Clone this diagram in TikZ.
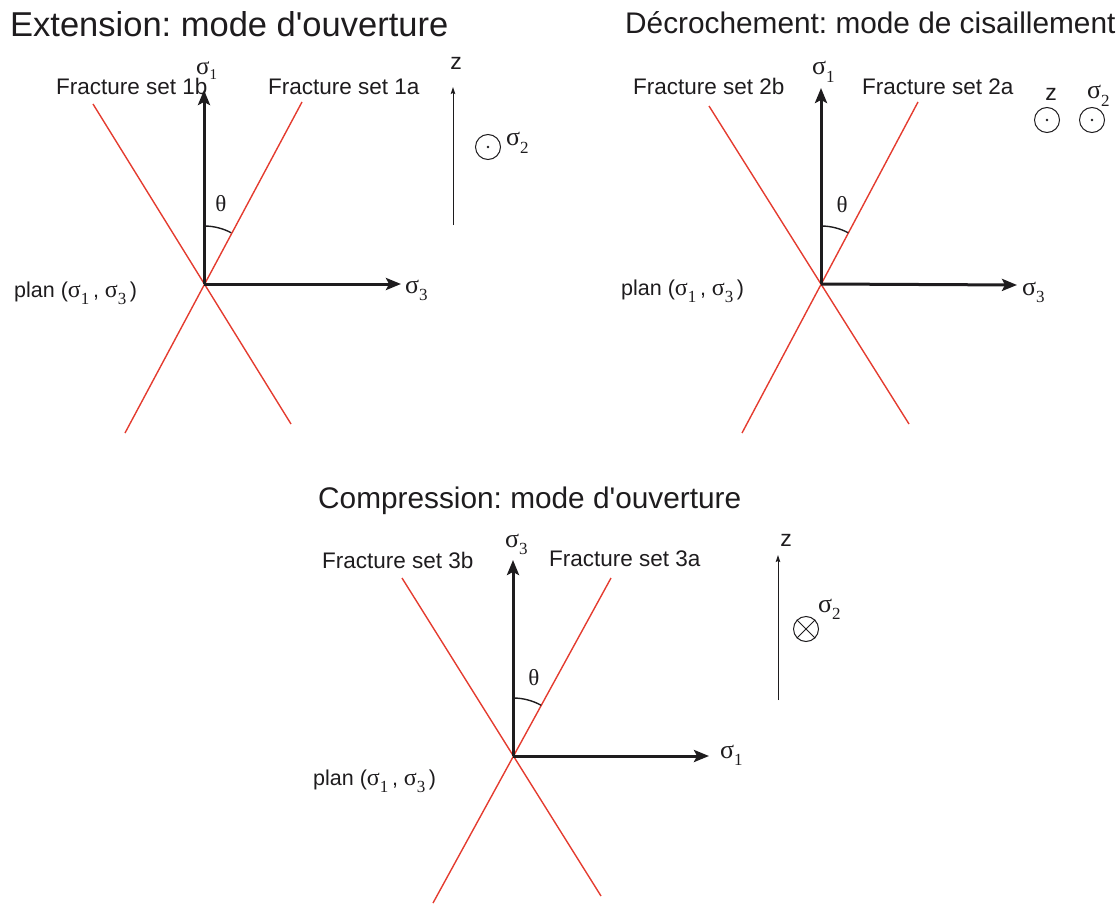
\documentclass[tikz,border=0pt]{standalone}
\usepackage{fontspec}
\setmainfont{Liberation Sans}[Ligatures=TeXOff]
\newfontfamily\grk{Liberation Serif}
\usetikzlibrary{arrows.meta}
\frenchspacing
\newcommand\fs[1]{\fontsize{#1}{#1}\selectfont}
\newcommand\sgm[3]{{\fs{#1}\grk σ\raisebox{-0.3em}{\fs{#2}#3}}}
\newcommand\sgmmid[3]{{\fs{#1}\grk σ\raisebox{-0.18em}{\fs{#2}#3}}}
\definecolor{fracred}{RGB}{228,60,48}
\definecolor{ink}{RGB}{30,28,30}
\begin{document}
\begin{tikzpicture}[x=1pt,y=-1pt,
  every node/.style={inner sep=0pt, text=ink},
  axis/.style={draw=ink, line width=3pt, -{Stealth[length=15pt,width=12pt,inset=3pt]}},
  frac/.style={draw=fracred, line width=1.4pt},
  zarrow/.style={draw=ink, line width=1pt, -{Stealth[length=7pt,width=4.5pt,inset=1pt]}},
  thetaarc/.style={draw=ink, line width=1.4pt},
  bigtitle/.style={anchor=base west, font=\fs{34.5}},
  title/.style={anchor=base west, font=\fs{29.8}},
  setlbl/.style={anchor=base west, font=\fs{22.5}},
  planlbl/.style={anchor=base west, font=\fs{21.5}},
  zlbl/.style={font=\fs{23}},
  thlbl/.style={font=\fs{23}\grk},
  dotc/.style={circle, draw=ink, line width=1pt, minimum size=25pt},
]
\useasboundingbox (0,0) rectangle (1118,904);

% ---------- Panel 1 : Extension ----------
\node[bigtitle] (t1) at (10,37) {Extension: mode d'ouverture};
\coordinate (o1) at (204,284);
\coordinate (s1top) at (204,90);
\coordinate (s1right) at (401,284);
\coordinate (f1bt) at (93,104);
\coordinate (f1bb) at (291,424);
\coordinate (f1at) at (302,102);
\coordinate (f1ab) at (125,433);
\draw[frac] (f1bt) -- (f1bb);
\draw[frac] (f1at) -- (f1ab);
\draw[axis] (o1) -- (s1top);
\draw[axis] (o1) -- (s1right);
\draw[thetaarc] ([yshift=58pt]o1) arc[start angle=-90, end angle=-62, radius=58];
\node[setlbl] (l1b) at (56,95) {Fracture set 1b};
\node[setlbl] (l1a) at (268,95) {Fracture set 1a};
\node[anchor=base west] (s1l) at (196,75) {\sgmmid{25}{15}{1}};
\node[thlbl] (th1) at (221,204) {θ};
\node[planlbl] (p1) at (14,297) {plan (\sgm{24}{17}{1}\,, \sgm{24}{17}{3}\,)};
\node[anchor=base west] (s3l) at (405,293) {\sgm{26}{17}{3}};
\node[zlbl] (z1) at (456,63) {z};
\coordinate (z1b) at (453,225);
\coordinate (z1t) at (453,87);
\draw[zarrow] (z1b) -- (z1t);
\node[dotc] (c1) at (488,147) {};
\fill[ink] (c1.center) circle (1.4pt);
\node[anchor=base west] (s2l) at (506,146) {\sgm{26}{17}{2}};

% ---------- Panel 2 : Decrochement ----------
\node[title] (t2) at (625,34) {Décrochement: mode de cisaillement};
\coordinate (o2) at (821,284);
\coordinate (s2top) at (821,88);
\coordinate (s2right) at (1017,285);
\coordinate (f2bt) at (709,106);
\coordinate (f2bb) at (909,424);
\coordinate (f2at) at (918,102);
\coordinate (f2ab) at (742,433);
\draw[frac] (f2bt) -- (f2bb);
\draw[frac] (f2at) -- (f2ab);
\draw[axis] (o2) -- (s2top);
\draw[axis] (o2) -- (s2right);
\draw[thetaarc] ([yshift=58pt]o2) arc[start angle=-90, end angle=-62, radius=58];
\node[setlbl] (l2b) at (633,95) {Fracture set 2b};
\node[setlbl] (l2a) at (862,95) {Fracture set 2a};
\node[anchor=base west] (s21l) at (812,75) {\sgm{26}{17}{1}};
\node[thlbl] (th2) at (842,205) {θ};
\node[planlbl] (p2) at (621,295) {plan (\sgm{24}{17}{1}\,, \sgm{24}{17}{3}\,)};
\node[anchor=base west] (s23l) at (1022,295) {\sgm{26}{17}{3}};
\node[zlbl] (z2) at (1051,94) {z};
\node[dotc] (c2) at (1047,120) {};
\fill[ink] (c2.center) circle (1.4pt);
\node[anchor=base west] (s22l) at (1087,99) {\sgm{26}{17}{2}};
\node[dotc] (c3) at (1092,120) {};
\fill[ink] (c3.center) circle (1.4pt);

% ---------- Panel 3 : Compression ----------
\node[title] (t3) at (318,508) {Compression: mode d'ouverture};
\coordinate (o3) at (513,756);
\coordinate (s3top) at (513,560);
\coordinate (s3right) at (709,756);
\coordinate (f3bt) at (402,578);
\coordinate (f3bb) at (601,896);
\coordinate (f3at) at (611,578);
\coordinate (f3ab) at (433,903);
\draw[frac] (f3bt) -- (f3bb);
\draw[frac] (f3at) -- (f3ab);
\draw[axis] (o3) -- (s3top);
\draw[axis] (o3) -- (s3right);
\draw[thetaarc] ([yshift=58pt]o3) arc[start angle=-90, end angle=-61, radius=58];
\node[setlbl] (l3b) at (322,568) {Fracture set 3b};
\node[setlbl] (l3a) at (549,566) {Fracture set 3a};
\node[anchor=base west] (s33l) at (505,547) {\sgm{26}{17}{3}};
\node[thlbl] (th3) at (534,678) {θ};
\node[planlbl] (p3) at (313,785) {plan (\sgm{24}{17}{1}\,, \sgm{24}{17}{3}\,)};
\node[anchor=base west] (s31l) at (720,758) {\sgm{26}{17}{1}};
\node[zlbl] (z3) at (786,540) {z};
\coordinate (z3b) at (778,700);
\coordinate (z3t) at (778,555);
\draw[zarrow] (z3b) -- (z3t);
\node[dotc] (c4) at (806,629) {};
\draw[ink, line width=1pt] (c4.north east) -- (c4.south west) (c4.north west) -- (c4.south east);
\node[anchor=base west] (s32l) at (818,612) {\sgm{26}{17}{2}};
\end{tikzpicture}
\end{document}
